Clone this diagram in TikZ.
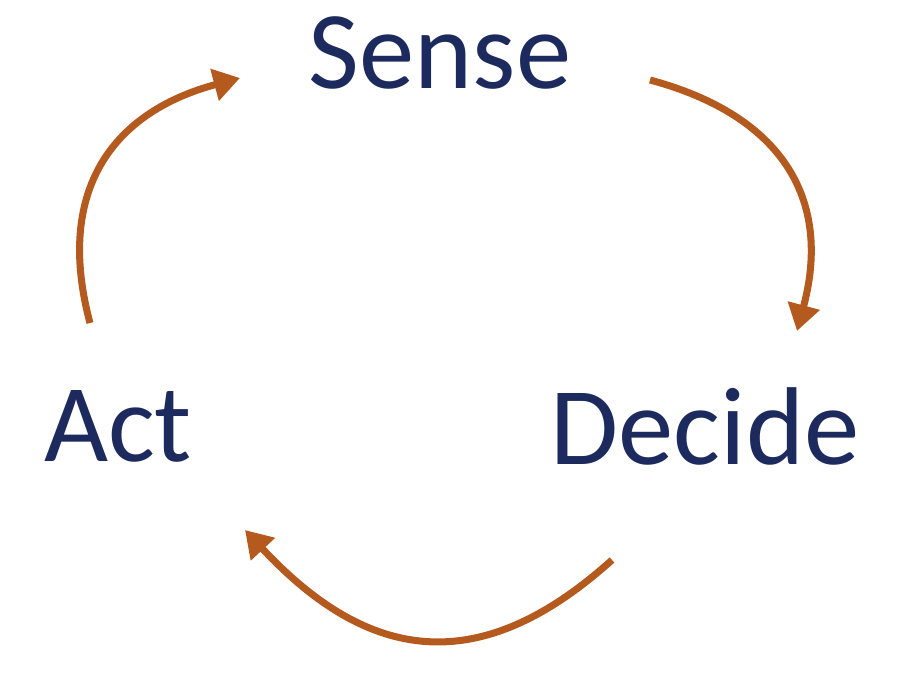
\documentclass[tikz,border=0pt]{standalone}
\usepackage{fontspec}
\setmainfont{Carlito}
\usepackage{tikz}
\usetikzlibrary{arrows.meta}
\definecolor{wordblue}{HTML}{1C2A5E}
\definecolor{looporange}{HTML}{B55A1F}
\tikzset{
  word/.style = {text=wordblue, inner sep=0pt,
                 font=\fontsize{63}{65}\selectfont},
  loop/.style = {draw=looporange, line width=4pt,
                 -{Triangle[length=15pt,width=18pt]}}
}
\begin{document}
\begin{tikzpicture}[x=0.02cm,y=0.02cm]
  \useasboundingbox (0,0) rectangle (897,674);

  \node [word] (sense)  at (440,621) {Sense};
  \node [word] (decide) at (705,248) {Decide};
  \node [word] (act)    at (118,248) {Act};

  \coordinate (s1) at (650,594);
  \coordinate (d1) at (797,343);
  \coordinate (d2) at (612,114);
  \coordinate (a2) at (245,144);
  \coordinate (a3) at (90,351);
  \coordinate (s3) at (240,596);

  \draw [loop] (s1) to[out=-15, in=75, looseness=1.2] (d1);
  \draw [loop] (d2) to[out=-138, in=-47, looseness=1.25] (a2);
  \draw [loop] (a3) to[out=105, in=195, looseness=1.2] (s3);
\end{tikzpicture}
\end{document}
